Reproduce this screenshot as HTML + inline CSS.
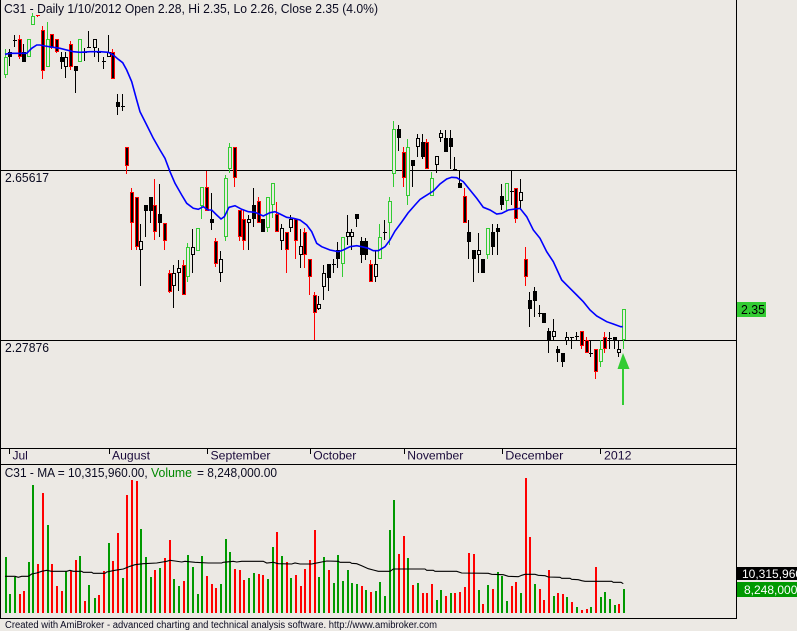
<!DOCTYPE html>
<html><head><meta charset="utf-8"><style>
html,body{margin:0;padding:0;background:#ece9e4;width:797px;height:631px;overflow:hidden}
svg{display:block}
text{font-family:"Liberation Sans",Arial,sans-serif}
</style></head><body>
<svg width="797" height="631" viewBox="0 0 797 631" xmlns="http://www.w3.org/2000/svg">
<rect x="0" y="0" width="797" height="631" fill="#ece9e4"/>
<g shape-rendering="crispEdges">
<!-- frame -->
<rect x="0" y="0" width="1" height="619" fill="#000"/>
<rect x="736" y="0" width="1" height="619" fill="#000"/>
<rect x="0" y="448" width="737" height="1" fill="#000"/>
<rect x="0" y="464" width="737" height="1" fill="#000"/>
<rect x="0" y="618" width="737" height="1" fill="#000"/>
<rect x="0" y="170" width="736" height="1" fill="#000"/>
<rect x="0" y="340" width="736" height="1" fill="#000"/>
<!-- month ticks -->
<path fill="#000" d="M9 449h1v5h-1zM109 449h1v5h-1zM207 449h1v5h-1zM310 449h1v5h-1zM404 449h1v5h-1zM502 449h1v5h-1zM600 449h1v5h-1z"/>
<!-- wicks -->
<path fill="#000" d="M9 49h1V66h-1zM14 35h1V47h-1zM23 44h1V62h-1zM61 52h1V69h-1zM65 52h1V78h-1zM75 66h1V93h-1zM84 48h1V61h-1zM88 31h1V48h-1zM94 39h1V57h-1zM98 48h1V62h-1zM103 57h1V69h-1zM108 35h1V57h-1zM117 94h1V115h-1zM122 94h1V111h-1zM140 224h1V286h-1zM145 205h1V237h-1zM150 197h1V223h-1zM159 184h1V237h-1zM173 265h1V308h-1zM178 260h1V291h-1zM192 229h1V273h-1zM211 193h1V230h-1zM220 251h1V282h-1zM248 215h1V250h-1zM253 188h1V227h-1zM262 219h1V232h-1zM281 224h1V250h-1zM290 215h1V232h-1zM300 229h1V268h-1zM318 296h1V310h-1zM323 265h1V300h-1zM328 264h1V291h-1zM333 259h1V273h-1zM337 242h1V268h-1zM347 215h1V245h-1zM351 229h1V250h-1zM356 214h1V227h-1zM361 237h1V263h-1zM365 238h1V260h-1zM375 251h1V282h-1zM384 220h1V240h-1zM398 125h1V151h-1zM412 160h1V187h-1zM417 134h1V157h-1zM422 134h1V159h-1zM436 156h1V173h-1zM440 130h1V142h-1zM445 130h1V152h-1zM450 130h1V169h-1zM454 157h1V171h-1zM459 171h1V188h-1zM468 220h1V259h-1zM473 250h1V282h-1zM478 233h1V273h-1zM482 259h1V273h-1zM492 224h1V255h-1zM497 224h1V255h-1zM501 184h1V210h-1zM511 170h1V205h-1zM520 179h1V209h-1zM529 292h1V327h-1zM534 287h1V317h-1zM539 305h1V317h-1zM543 313h1V323h-1zM548 328h1V353h-1zM553 319h1V340h-1zM557 346h1V362h-1zM562 353h1V367h-1zM566 332h1V345h-1zM571 337h1V349h-1zM576 332h1V340h-1zM590 340h1V357h-1zM609 332h1V349h-1zM614 337h1V349h-1zM618 340h1V357h-1z"/>
<path fill="#ff0000" d="M19 35h1V59h-1zM37 15h1V17h-1zM42 26h1V79h-1zM51 34h1V49h-1zM56 39h1V53h-1zM70 41h1V70h-1zM112 49h1V79h-1zM126 147h1V174h-1zM131 188h1V250h-1zM136 197h1V250h-1zM154 179h1V240h-1zM164 223h1V250h-1zM169 270h1V293h-1zM183 260h1V295h-1zM206 171h1V211h-1zM215 238h1V267h-1zM234 147h1V187h-1zM239 210h1V241h-1zM243 210h1V250h-1zM258 197h1V223h-1zM276 202h1V232h-1zM286 232h1V273h-1zM295 219h1V259h-1zM304 228h1V268h-1zM309 259h1V295h-1zM314 292h1V340h-1zM370 260h1V282h-1zM403 147h1V187h-1zM426 139h1V169h-1zM464 188h1V223h-1zM515 188h1V223h-1zM525 247h1V286h-1zM581 331h1V349h-1zM586 337h1V353h-1zM595 349h1V379h-1zM604 332h1V353h-1z"/>
<path fill="#33cc33" d="M5 49h1V78h-1zM28 39h1V57h-1zM32 13h1V25h-1zM47 22h1V67h-1zM79 39h1V62h-1zM187 243h1V282h-1zM197 228h1V251h-1zM201 187h1V219h-1zM225 175h1V241h-1zM229 143h1V173h-1zM267 197h1V232h-1zM272 183h1V218h-1zM342 237h1V277h-1zM379 224h1V259h-1zM389 197h1V245h-1zM393 121h1V187h-1zM407 139h1V205h-1zM431 172h1V196h-1zM487 228h1V259h-1zM506 183h1V210h-1zM600 340h1V367h-1zM623 309h1V349h-1z"/>
<!-- bodies outer -->
<path fill="#000" d="M8 52h4V57h-4zM13 40h4V41h-4zM22 52h4V62h-4zM60 57h4V62h-4zM64 57h4V67h-4zM74 66h4V71h-4zM83 52h4V53h-4zM87 47h4V48h-4zM93 39h4V48h-4zM97 52h4V53h-4zM102 61h4V62h-4zM107 52h4V57h-4zM116 102h4V107h-4zM121 106h4V107h-4zM139 241h4V250h-4zM144 205h4V211h-4zM149 197h4V211h-4zM158 214h4V223h-4zM172 273h4V286h-4zM177 268h4V273h-4zM191 247h4V255h-4zM210 219h4V223h-4zM219 259h4V273h-4zM247 219h4V223h-4zM252 205h4V219h-4zM261 219h4V232h-4zM280 228h4V241h-4zM289 219h4V228h-4zM299 246h4V255h-4zM317 304h4V309h-4zM322 273h4V287h-4zM327 264h4V278h-4zM332 264h4V265h-4zM336 250h4V259h-4zM346 232h4V237h-4zM350 232h4V237h-4zM355 214h4V219h-4zM360 241h4V255h-4zM364 241h4V255h-4zM374 264h4V277h-4zM383 232h4V233h-4zM397 129h4V138h-4zM411 160h4V166h-4zM416 138h4V147h-4zM421 142h4V157h-4zM435 156h4V165h-4zM439 133h4V138h-4zM444 138h4V152h-4zM449 138h4V147h-4zM453 169h4V170h-4zM458 183h4V188h-4zM467 232h4V242h-4zM472 250h4V259h-4zM477 250h4V255h-4zM481 259h4V273h-4zM491 232h4V247h-4zM496 228h4V232h-4zM500 196h4V205h-4zM510 191h4V192h-4zM519 192h4V201h-4zM528 300h4V309h-4zM533 291h4V301h-4zM538 313h4V314h-4zM542 313h4V323h-4zM547 331h4V340h-4zM552 331h4V337h-4zM556 349h4V353h-4zM561 353h4V362h-4zM565 337h4V341h-4zM570 337h4V338h-4zM575 336h4V337h-4zM589 353h4V354h-4zM608 338h4V339h-4zM613 337h4V340h-4zM617 349h4V353h-4z"/>
<path fill="#ff0000" d="M18 39h4V57h-4zM36 15h4V16h-4zM41 30h4V71h-4zM50 34h4V48h-4zM55 39h4V52h-4zM69 44h4V67h-4zM111 52h4V79h-4zM125 147h4V166h-4zM130 192h4V223h-4zM135 197h4V247h-4zM153 205h4V232h-4zM163 223h4V241h-4zM168 273h4V292h-4zM182 265h4V295h-4zM205 187h4V211h-4zM214 241h4V264h-4zM233 147h4V178h-4zM238 210h4V237h-4zM242 219h4V241h-4zM257 201h4V223h-4zM275 214h4V232h-4zM285 232h4V250h-4zM294 219h4V241h-4zM303 232h4V255h-4zM308 259h4V277h-4zM313 295h4V313h-4zM369 264h4V282h-4zM402 152h4V178h-4zM425 142h4V169h-4zM463 196h4V223h-4zM514 188h4V219h-4zM524 259h4V277h-4zM580 331h4V346h-4zM585 340h4V353h-4zM594 349h4V372h-4zM603 337h4V349h-4z"/>
<path fill="#33cc33" d="M4 57h4V75h-4zM27 39h4V57h-4zM31 16h4V25h-4zM46 39h4V67h-4zM78 39h4V62h-4zM186 247h4V277h-4zM196 228h4V251h-4zM200 187h4V206h-4zM224 178h4V237h-4zM228 147h4V169h-4zM266 197h4V228h-4zM271 183h4V205h-4zM341 237h4V264h-4zM378 237h4V259h-4zM388 201h4V223h-4zM392 129h4V174h-4zM406 147h4V196h-4zM430 178h4V196h-4zM486 228h4V255h-4zM505 183h4V201h-4zM599 349h4V362h-4zM622 309h4V340h-4z"/>
<!-- inner fills -->
<path fill="#000" d="M19 40h2V56h-2zM42 31h2V70h-2zM51 35h2V47h-2zM56 40h2V51h-2zM70 45h2V66h-2zM112 53h2V78h-2zM126 148h2V165h-2zM131 193h2V222h-2zM136 198h2V246h-2zM154 206h2V231h-2zM164 224h2V240h-2zM169 274h2V291h-2zM183 266h2V294h-2zM206 188h2V210h-2zM215 242h2V263h-2zM234 148h2V177h-2zM239 211h2V236h-2zM243 220h2V240h-2zM258 202h2V222h-2zM276 215h2V231h-2zM286 233h2V249h-2zM295 220h2V240h-2zM304 233h2V254h-2zM309 260h2V276h-2zM314 296h2V312h-2zM370 265h2V281h-2zM403 153h2V177h-2zM426 143h2V168h-2zM464 197h2V222h-2zM515 189h2V218h-2zM525 260h2V276h-2zM581 332h2V345h-2zM586 341h2V352h-2zM595 350h2V371h-2zM604 338h2V348h-2z"/>
<path fill="#ece9e4" d="M5 58h2V74h-2zM28 40h2V56h-2zM32 17h2V24h-2zM47 40h2V66h-2zM65 58h2V66h-2zM79 40h2V61h-2zM94 40h2V47h-2zM108 53h2V56h-2zM140 242h2V249h-2zM173 274h2V285h-2zM178 269h2V272h-2zM187 248h2V276h-2zM192 248h2V254h-2zM197 229h2V250h-2zM201 188h2V205h-2zM220 260h2V272h-2zM225 179h2V236h-2zM229 148h2V168h-2zM248 220h2V222h-2zM267 198h2V227h-2zM272 184h2V204h-2zM281 229h2V240h-2zM290 220h2V227h-2zM300 247h2V254h-2zM318 305h2V308h-2zM323 274h2V286h-2zM342 238h2V263h-2zM347 233h2V236h-2zM351 233h2V236h-2zM375 265h2V276h-2zM379 238h2V258h-2zM389 202h2V222h-2zM393 130h2V173h-2zM407 148h2V195h-2zM417 139h2V146h-2zM431 179h2V195h-2zM436 157h2V164h-2zM440 134h2V137h-2zM478 251h2V254h-2zM487 229h2V254h-2zM506 184h2V200h-2zM520 193h2V200h-2zM553 332h2V336h-2zM566 338h2V340h-2zM600 350h2V361h-2zM618 350h2V352h-2zM623 310h2V339h-2z"/>
<!-- volume bars -->
<path fill="#ff0000" d="M19 594h2V613h-2zM23 591h2V613h-2zM37 564h2V613h-2zM42 493h2V613h-2zM51 564h2V613h-2zM56 586h2V613h-2zM61 591h2V613h-2zM70 571h2V613h-2zM75 560h2V613h-2zM84 601h2V613h-2zM98 595h2V613h-2zM103 571h2V613h-2zM112 561h2V613h-2zM117 533h2V613h-2zM126 495h2V613h-2zM131 480h2V613h-2zM136 481h2V613h-2zM154 570h2V613h-2zM164 558h2V613h-2zM169 540h2V613h-2zM183 581h2V613h-2zM206 576h2V613h-2zM211 584h2V613h-2zM215 588h2V613h-2zM234 569h2V613h-2zM239 570h2V613h-2zM243 580h2V613h-2zM258 574h2V613h-2zM262 575h2V613h-2zM276 532h2V613h-2zM286 562h2V613h-2zM295 575h2V613h-2zM300 586h2V613h-2zM304 569h2V613h-2zM309 560h2V613h-2zM314 530h2V613h-2zM328 570h2V613h-2zM361 586h2V613h-2zM370 592h2V613h-2zM398 554h2V613h-2zM403 536h2V613h-2zM412 585h2V613h-2zM422 593h2V613h-2zM426 593h2V613h-2zM431 584h2V613h-2zM445 596h2V613h-2zM454 593h2V613h-2zM459 592h2V613h-2zM464 587h2V613h-2zM468 553h2V613h-2zM473 554h2V613h-2zM482 604h2V613h-2zM492 589h2V613h-2zM511 586h2V613h-2zM515 582h2V613h-2zM525 478h2V613h-2zM529 537h2V613h-2zM539 589h2V613h-2zM543 600h2V613h-2zM548 570h2V613h-2zM557 593h2V613h-2zM562 594h2V613h-2zM571 602h2V613h-2zM581 610h2V613h-2zM586 609h2V613h-2zM595 567h2V613h-2zM618 604h2V613h-2z"/>
<path fill="#009900" d="M5 557h2V613h-2zM9 594h2V613h-2zM14 577h2V613h-2zM28 562h2V613h-2zM32 485h2V613h-2zM47 525h2V613h-2zM65 571h2V613h-2zM79 556h2V613h-2zM88 585h2V613h-2zM94 598h2V613h-2zM108 543h2V613h-2zM122 578h2V613h-2zM140 529h2V613h-2zM145 557h2V613h-2zM150 577h2V613h-2zM159 568h2V613h-2zM173 579h2V613h-2zM178 586h2V613h-2zM187 555h2V613h-2zM192 567h2V613h-2zM197 594h2V613h-2zM201 556h2V613h-2zM220 584h2V613h-2zM225 539h2V613h-2zM229 552h2V613h-2zM248 578h2V613h-2zM253 573h2V613h-2zM267 579h2V613h-2zM272 547h2V613h-2zM281 556h2V613h-2zM290 578h2V613h-2zM318 577h2V613h-2zM323 557h2V613h-2zM333 583h2V613h-2zM337 555h2V613h-2zM342 581h2V613h-2zM347 570h2V613h-2zM351 583h2V613h-2zM356 584h2V613h-2zM365 590h2V613h-2zM375 591h2V613h-2zM379 582h2V613h-2zM384 596h2V613h-2zM389 530h2V613h-2zM393 500h2V613h-2zM407 558h2V613h-2zM417 583h2V613h-2zM436 600h2V613h-2zM440 590h2V613h-2zM450 593h2V613h-2zM478 590h2V613h-2zM487 585h2V613h-2zM497 572h2V613h-2zM501 576h2V613h-2zM506 601h2V613h-2zM520 593h2V613h-2zM534 584h2V613h-2zM553 596h2V613h-2zM566 597h2V613h-2zM576 607h2V613h-2zM590 607h2V613h-2zM600 597h2V613h-2zM604 592h2V613h-2zM609 599h2V613h-2zM614 605h2V613h-2zM623 589h2V613h-2z"/>
<!-- right labels -->
<rect x="737" y="302" width="29" height="15" fill="#33cc33"/>
<rect x="737" y="567" width="60" height="13" fill="#000"/>
<rect x="737" y="582" width="60" height="15" fill="#009900"/>
<!-- arrow stem -->
<rect x="622" y="368" width="2" height="37" fill="#33cc33"/>
</g>
<polygon points="623,353 629.5,369 617.5,369" fill="#33cc33"/>
<!-- price MA -->
<polyline fill="none" stroke="#0000ff" stroke-width="1.6" points="5,54.3 10,53.3 20,53.3 26.7,53.3 31.7,48.3 36.7,45 40,45 45,46 53.3,47.3 60,48.3 66.7,50 73.3,51.7 80,52.3 90,51.7 100,51.7 108.3,52.3 113.3,55 118.3,59.3 122.7,62.7 126.7,70 131.7,81.7 136.7,100 140,111.7 146.7,125 153.3,138.3 160,150 165,158.3 170,171.7 175,183.3 181.7,195 186.7,203.3 193.3,208.3 198.3,209.3 203.3,206.7 208.3,210 211.7,210 216.7,215 221,219 224.3,216.7 229,207.3 235,205.7 241.7,209.3 248.3,211.7 255,212.3 263.3,216 270,212.7 275,211.7 280,214 286.7,217.3 293.3,218.3 300,220 306.7,225 311.7,231.7 316.7,243.3 321.7,246.7 330,250 338.3,251.7 343.3,250 350,246.7 356.7,245.7 361.7,246.7 368.3,248.3 373.3,250.7 378.3,250.7 385,246.7 390,240 395,231 401.7,222 408,213 415,205 420,199.5 423.3,197.3 433.3,191 440,184 446.7,179 451.7,177.3 456.7,177.7 463.3,181.7 470,190 476.7,198.3 483.3,207.3 490,210 496.7,214 501.7,213.3 508.3,210 520,208.3 526.7,216.7 533.3,230 540,238.3 546.7,251.7 553.3,261.7 561.7,280 570,288.3 576.7,295 583.3,301.7 590,310 596.7,316 606.7,321.7 613.3,324 620.7,326.7 622.7,326.7"/>
<!-- volume MA -->
<polyline fill="none" stroke="#000" stroke-width="1.1" points="5,576.3 15,576.3 18.3,577.3 21.7,576.3 28.3,576.3 31.7,574 36.7,573 41.7,571.3 46.7,570.3 51.7,571.3 66.7,571.3 70,570.3 73.3,571.3 81.7,571.3 83.3,572.3 91.7,572.3 93.3,573.3 105,573.3 106.7,572 115,570.3 123.3,569 130,566.3 135,564.7 143.3,563.7 156.7,563 166.7,561.3 170,560.3 175,561 181.7,562 185,561.3 195,562.3 208.3,563 221.7,563 223.3,562.3 233.3,561.3 236.7,562 241.7,561.3 263.3,561.3 266.7,563 273.3,562.3 278.3,563.7 291.7,564 295,563 300,564 311.7,564 315,563.3 321.7,562 326.7,561 338.3,561.3 340,562.3 350,562.3 351.7,563.3 356.7,563.7 361.7,565.7 368.3,568.7 373.3,570 378.3,571.3 390,571.3 393.3,569 425,569 426.7,570.3 433.3,570.3 435,571.3 456.7,571.3 461.7,573 488.3,573.3 491.7,574.3 503.3,574.7 508.3,576.3 518.3,576.7 521.7,575.3 525,574.3 535,574.3 538.3,575.3 545,575.7 548.3,577 560,577.3 561.7,578.3 570,578.3 571.7,579.3 578.3,579.7 581.7,580.7 585,581.3 611.7,581.3 613.3,582.3 621,582.3 623.3,583.7"/>
<!-- texts -->
<text x="4" y="13" font-size="12.5" fill="#0a0a20" textLength="374" lengthAdjust="spacingAndGlyphs">C31 - Daily 1/10/2012 Open 2.28, Hi 2.35, Lo 2.26, Close 2.35 (4.0%)</text>
<text x="5" y="182" font-size="12.5" fill="#0a0a20" textLength="44" lengthAdjust="spacingAndGlyphs">2.65617</text>
<text x="5" y="352" font-size="12.5" fill="#0a0a20" textLength="44" lengthAdjust="spacingAndGlyphs">2.27876</text>
<text x="741" y="314" font-size="12.5" fill="#000" textLength="24" lengthAdjust="spacingAndGlyphs">2.35</text>
<text x="742" y="578" font-size="12" fill="#fff">10,315,960.00</text>
<text x="744" y="594" font-size="12" fill="#fff">8,248,000.00</text>
<g font-size="12" fill="#1a0a3a">
<text x="12.5" y="459.5">Jul</text>
<text x="112" y="459.5" textLength="38" lengthAdjust="spacingAndGlyphs">August</text>
<text x="210.5" y="459.5" textLength="60" lengthAdjust="spacingAndGlyphs">September</text>
<text x="313.3" y="459.5" textLength="43" lengthAdjust="spacingAndGlyphs">October</text>
<text x="407.3" y="459.5" textLength="56" lengthAdjust="spacingAndGlyphs">November</text>
<text x="505.3" y="459.5" textLength="58" lengthAdjust="spacingAndGlyphs">December</text>
<text x="604" y="459.5" textLength="27.5" lengthAdjust="spacingAndGlyphs">2012</text>
</g>
<text x="4.7" y="477" font-size="12.5" fill="#0a0a20" textLength="143" lengthAdjust="spacingAndGlyphs">C31 - MA = 10,315,960.00,</text>
<text x="151" y="477" font-size="12.5" fill="#008800" textLength="41" lengthAdjust="spacingAndGlyphs">Volume</text>
<text x="197" y="477" font-size="12.5" fill="#0a0a20" textLength="80" lengthAdjust="spacingAndGlyphs">= 8,248,000.00</text>
<text x="5" y="628" font-size="10" fill="#0a0a20" textLength="432" lengthAdjust="spacingAndGlyphs">Created with AmiBroker - advanced charting and technical analysis software. http://www.amibroker.com</text>
</svg>
</body></html>
